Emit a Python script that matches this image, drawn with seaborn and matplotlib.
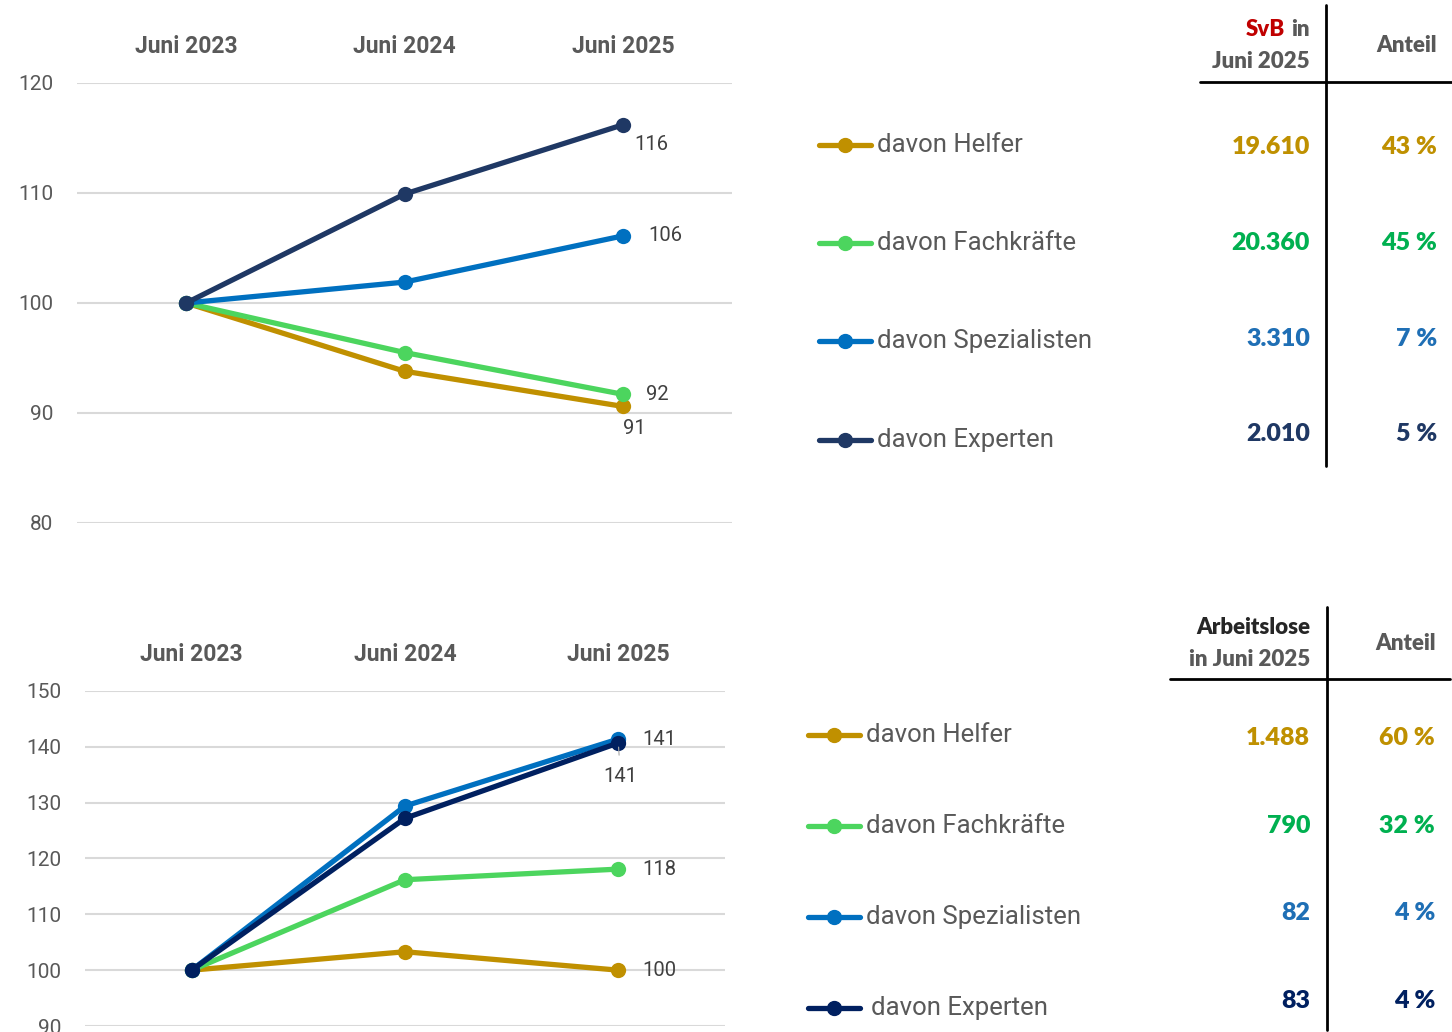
import matplotlib
matplotlib.use('Agg')
import matplotlib.pyplot as plt
import matplotlib.font_manager as fm
import seaborn as sns
import pandas as pd

# Daten (Index Juni 2023 = 100)
kategorien = ['Juni 2023', 'Juni 2024', 'Juni 2025']
gruppen = ['davon Helfer', 'davon Fachkräfte', 'davon Spezialisten', 'davon Experten']

svb_helfer = [100, 93.8, 90.6]
svb_fachkraefte = [100, 95.5, 91.7]
svb_spezialisten = [100, 101.9, 106.1]
svb_experten = [100, 109.9, 116.2]

alo_helfer = [100, 103.3, 100.0]
alo_fachkraefte = [100, 116.2, 118.1]
alo_spezialisten = [100, 129.4, 141.4]
alo_experten = [100, 127.2, 140.7]

svb_anzahl = ['19.610', '20.360', '3.310', '2.010']
svb_anteil = ['43 %', '45 %', '7 %', '5 %']
alo_anzahl = ['1.488', '790', '82', '83']
alo_anteil = ['60 %', '32 %', '4 %', '4 %']

linien_farben = ['#C09000', '#4CD55E', '#0070C0', '#1F3864']
linien_farben_alo = ['#C09000', '#4CD55E', '#0070C0', '#002060']
text_farben = ['#BF9000', '#00B050', '#1F6FB5', '#1F3864']
text_farben_alo = ['#BF9000', '#00B050', '#1F6FB5', '#002060']

sns.set_style('white')
names = {f.name for f in fm.fontManager.ttflist}
narrow = 'Liberation Sans Narrow' if 'Liberation Sans Narrow' in names else 'Roboto'
boldfont = 'Lato' if 'Lato' in names else 'DejaVu Sans'
plt.rcParams['font.family'] = [narrow, 'DejaVu Sans']

grau = '#595959'
grau_dunkel = '#404040'


def long_df(reihen):
    rows = []
    for g, werte in zip(gruppen, reihen):
        for i, w in enumerate(werte):
            rows.append({'gruppe': g, 'pos': i, 'wert': w})
    return pd.DataFrame(rows)


def chart(ax, reihen, farben, ylim, yticks):
    df = long_df(reihen)
    sns.lineplot(data=df, x='pos', y='wert', hue='gruppe', hue_order=gruppen,
                 palette=farben, marker='o', markersize=11, markeredgewidth=0,
                 linewidth=3.8, legend=False, ax=ax, sort=False)
    ax.set_xlim(-0.5, 2.5)
    ax.set_ylim(*ylim)
    ax.set_yticks(yticks)
    ax.set_yticklabels([str(t) for t in yticks], color=grau, fontsize=15, family=narrow)
    ax.set_xticks(range(len(kategorien)))
    ax.set_xticklabels(kategorien, color=grau, fontsize=16.5, fontweight='bold', family=narrow)
    ax.xaxis.set_ticks_position('top')
    ax.tick_params(axis='x', length=0, pad=18)
    ax.tick_params(axis='y', length=0, pad=17)
    ax.set_xlabel('')
    ax.set_ylabel('')
    ax.grid(axis='y', color='#D9D9D9', linewidth=1.5)
    ax.grid(axis='x', visible=False)
    ax.set_axisbelow(True)
    for s in ax.spines.values():
        s.set_visible(False)


fig = plt.figure(figsize=(14.52, 10.32), dpi=100)

# oberes Diagramm: SvB
ax1 = fig.add_axes([77 / 1452, 1 - 523 / 1032, 655 / 1452, 440 / 1032])
chart(ax1, [svb_helfer, svb_fachkraefte, svb_spezialisten, svb_experten],
      linien_farben, (80, 120), [80, 90, 100, 110, 120])
lab = dict(color=grau_dunkel, fontsize=14.5, textcoords='offset points')
ax1.annotate(f'{svb_experten[-1]:.0f}', (2, svb_experten[-1]), xytext=(8, -14), ha='left', va='center', **lab)
ax1.annotate(f'{svb_spezialisten[-1]:.0f}', (2, svb_spezialisten[-1]), xytext=(18, 0), ha='left', va='center', **lab)
ax1.annotate(f'{svb_fachkraefte[-1]:.0f}', (2, svb_fachkraefte[-1]), xytext=(17, 0), ha='left', va='center', **lab)
ax1.annotate(f'{svb_helfer[-1]:.0f}', (2, svb_helfer[-1]), xytext=(8, -16), ha='center', va='center', **lab)

# unteres Diagramm: Arbeitslose
ax2 = fig.add_axes([85 / 1452, 1 - 1026 / 1032, 640 / 1452, 335 / 1032])
chart(ax2, [alo_helfer, alo_fachkraefte, alo_spezialisten, alo_experten],
      linien_farben_alo, (90, 150), [90, 100, 110, 120, 130, 140, 150])
ax2.annotate(f'{alo_spezialisten[-1]:.0f}', (2, alo_spezialisten[-1]), xytext=(17, 0), ha='left', va='center', **lab)
ax2.annotate(f'{alo_experten[-1]:.0f}', (2, alo_experten[-1]), xytext=(1.5, -24), ha='center', va='center',
             arrowprops=dict(arrowstyle='-', color='#A6A6A6', lw=0.8, shrinkA=6, shrinkB=3), **lab)
ax2.annotate(f'{alo_fachkraefte[-1]:.0f}', (2, alo_fachkraefte[-1]), xytext=(17, 0), ha='left', va='center', **lab)
ax2.annotate(f'{alo_helfer[-1]:.0f}', (2, alo_helfer[-1]), xytext=(17, 0), ha='left', va='center', **lab)

# Tabellen rechts (Pixelkoordinaten)
tx = fig.add_axes([0, 0, 1, 1], zorder=-1)
tx.set_xlim(0, 1452)
tx.set_ylim(1032, 0)
tx.axis('off')


def tabelle(rows_y, leg_y, leg_x0, leg_x1, label_x, anzahl, anteil, farben, lfarben, col1, col2):
    for i, g in enumerate(gruppen):
        tx.plot([leg_x0, leg_x1], [leg_y[i], leg_y[i]], color=lfarben[i], lw=3.8, solid_capstyle='round')
        tx.plot([(leg_x0 + leg_x1) / 2], [leg_y[i]], 'o', color=lfarben[i], markersize=10)
        lx = label_x + (5 if (i == 3 and leg_x0 < 810) else 0)
        tx.text(lx, leg_y[i], g, color=grau, fontsize=18.5, ha='left', va='center', family=narrow)
        tx.text(col1, rows_y[i], anzahl[i], color=farben[i], fontsize=18, fontweight='heavy',
                ha='right', va='center', family=boldfont)
        tx.text(col2, rows_y[i], anteil[i], color=farben[i], fontsize=18, fontweight='heavy',
                ha='right', va='center', family=boldfont)


hb = dict(fontsize=16, fontweight='heavy', family=boldfont, va='center')
# oben
tx.text(1285, 30, 'SvB', color='#C00000', ha='right', **hb)
tx.text(1310, 30, 'in', color=grau, ha='right', **hb)
tx.text(1310, 61, 'Juni 2025', color=grau, ha='right', **hb)
tx.text(1437, 45, 'Anteil', color=grau, ha='right', **hb)
tx.plot([1200, 1452], [82, 82], color='black', lw=2)
tx.plot([1326, 1326], [5, 466], color='black', lw=2)
tabelle([147, 243, 339, 434], [145, 243, 341, 440], 819, 871, 877,
        svb_anzahl, svb_anteil, text_farben, linien_farben, 1310, 1437)

# unten
tx.text(1310, 628, 'Arbeitslose', color='#262626', ha='right', **hb)
tx.text(1310, 660, 'in Juni 2025', color=grau, ha='right', **hb)
tx.text(1436, 644, 'Anteil', color=grau, ha='right', **hb)
tx.plot([1170, 1450], [679, 679], color='black', lw=2)
tx.plot([1327, 1327], [607, 1030], color='black', lw=2)
tabelle([738, 826, 913, 1001], [735, 826, 917, 1008], 808, 860, 866,
        alo_anzahl, alo_anteil, text_farben_alo, linien_farben_alo, 1310, 1435)

fig.savefig('out.png', dpi=100)
plt.close(fig)
